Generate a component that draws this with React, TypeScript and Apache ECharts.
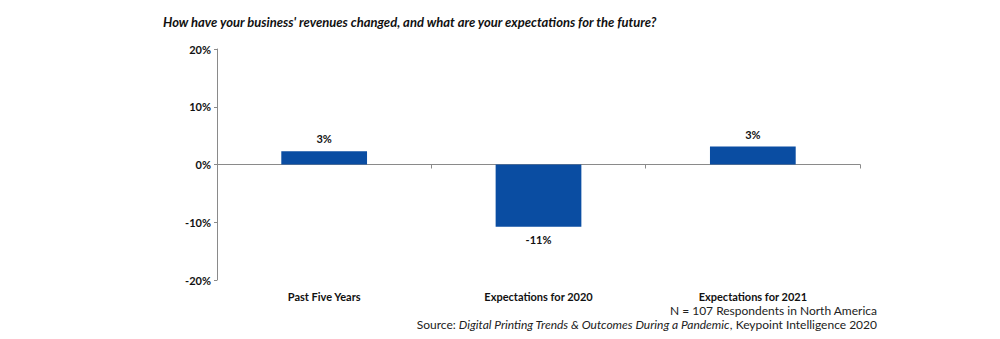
import React, { useEffect, useRef } from "react";
import * as echarts from "echarts";

const categories = ["Past Five Years", "Expectations for 2020", "Expectations for 2021"];
const values = [2.3, -10.8, 3.1];
const valueLabels = ["3%", "-11%", "3%"];
const yMin = -20;
const yMax = 20;
const yInterval = 10;
const titleText = "How have your business' revenues changed, and what are your expectations for the future?";
const noteText = "N = 107 Respondents in North America";

const FONT = "Lato, 'Open Sans', sans-serif";

export default function App() {
  const ref = useRef<HTMLDivElement>(null);
  useEffect(() => {
    document.body.style.margin = "0";
    const chart = echarts.init(ref.current!, null, { renderer: "svg" });
    chart.setOption({
      animation: false,
      backgroundColor: "#ffffff",
      grid: { left: 217, right: 140, top: 49, bottom: 59, containLabel: false },
      xAxis: [
        {
          type: "category",
          data: categories,
          position: "bottom",
          axisLine: { onZero: true, lineStyle: { color: "#8a8a8a", width: 1 } },
          axisTick: { show: true, alignWithLabel: false, length: 4, lineStyle: { color: "#8a8a8a" } },
          axisLabel: { show: false },
        },
        {
          type: "category",
          data: categories,
          position: "bottom",
          axisLine: { show: false, onZero: false },
          axisTick: { show: false },
          axisLabel: {
            show: true,
            margin: 11,
            color: "#111",
            fontFamily: FONT,
            fontSize: 11,
            fontWeight: "bold",
          },
        },
      ],
      yAxis: {
        type: "value",
        min: yMin,
        max: yMax,
        interval: yInterval,
        splitLine: { show: false },
        axisLine: { show: true, lineStyle: { color: "#8a8a8a", width: 1 } },
        axisTick: { show: true, length: 3, lineStyle: { color: "#8a8a8a" } },
        axisLabel: {
          formatter: "{value}%",
          margin: 6,
          color: "#111",
          fontFamily: FONT,
          fontSize: 11,
          fontWeight: "bold",
        },
      },
      series: [
        {
          type: "bar",
          xAxisIndex: 0,
          data: values,
          barWidth: "40%",
          itemStyle: { color: "#0A4DA2" },
          label: {
            show: true,
            position: "outside",
            distance: 7,
            formatter: (p: any) => valueLabels[p.dataIndex],
            color: "#111",
            fontFamily: FONT,
            fontSize: 11,
            fontWeight: "bold",
          },
        },
      ],
      graphic: [
        {
          type: "text",
          left: 163,
          top: 15,
          style: {
            text: titleText,
            font: `italic bold 13px ${FONT}`,
            fill: "#111",
          },
        },
        {
          type: "text",
          right: 123,
          top: 304,
          style: {
            text: noteText,
            font: `12px ${FONT}`,
            fill: "#222",
            textAlign: "right",
          },
        },
        {
          type: "text",
          right: 123,
          top: 318,
          style: {
            text: "{n|Source: }{i|Digital Printing Trends & Outcomes During a Pandemic}{n|, Keypoint Intelligence 2020}",
            fill: "#222",
            rich: {
              n: { fontFamily: FONT, fontSize: 12, fill: "#222" },
              i: { fontFamily: FONT, fontSize: 12, fontStyle: "italic", fill: "#222" },
            },
          },
        },
      ],
    });
    return () => chart.dispose();
  }, []);
  return <div ref={ref} style={{ width: 1000, height: 339 }} />;
}
